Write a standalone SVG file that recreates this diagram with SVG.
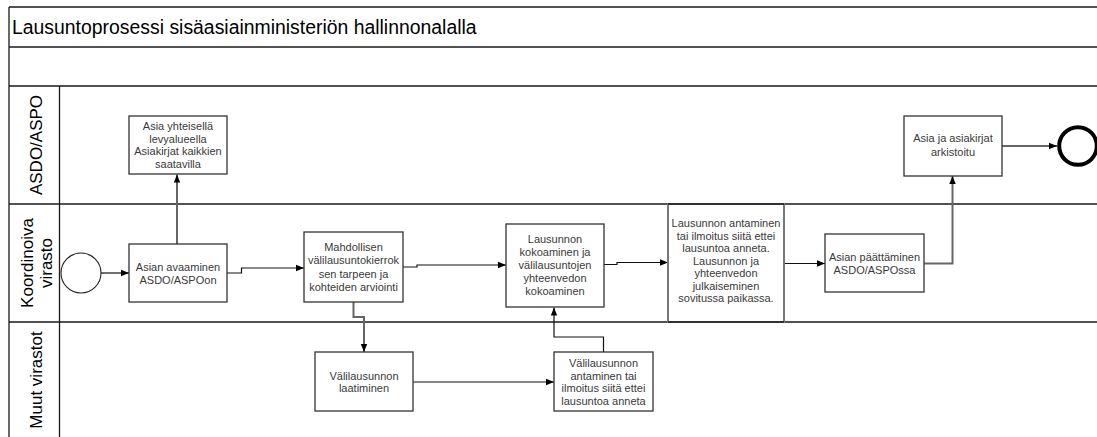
<svg xmlns="http://www.w3.org/2000/svg" width="1097" height="437" viewBox="0 0 1097 437">
<style>
.lane{stroke:#1a1a1a;stroke-width:1.3;fill:none}
.box{fill:#fff;stroke:#333;stroke-width:1.3}
.tall{fill:#fff;stroke:#777;stroke-width:2}
.bt{font-family:"Liberation Sans",Arial,sans-serif;font-size:11px;fill:#3a3a3a;text-anchor:middle}
.lbl{font-family:"Liberation Sans",Arial,sans-serif;font-size:17px;fill:#000;text-anchor:middle}
.title{font-family:"Liberation Sans",Arial,sans-serif;font-size:19.4px;fill:#000}
.c1{fill:none;stroke:#111;stroke-width:1.2}
.c2{fill:none;stroke:#666;stroke-width:2}
</style>
<defs>
<marker id="ah" viewBox="0 0 10 10" refX="10" refY="5" markerWidth="8" markerHeight="8" markerUnits="userSpaceOnUse" orient="auto">
<path d="M0,1 L10,5 L0,9 z" fill="#000"/>
</marker>
</defs>
<rect width="1097" height="437" fill="#fff"/>
<g id="pool">
<path class="lane" d="M9,7 H1097 M9,47 H1097 M9,86 H1097 M9,204 H1097 M9,322 H1097 M9,7 V437 M59.5,86 V437"/>
<text class="title" x="12" y="34">Lausuntoprosessi sisäasiainministeriön hallinnonalalla</text>
<text class="lbl" transform="translate(41.5,145) rotate(-90)">ASDO/ASPO</text>
<text class="lbl" transform="translate(33,263) rotate(-90)"><tspan x="0" y="0">Koordinoiva</tspan><tspan x="0" y="18.5">virasto</tspan></text>
<text class="lbl" transform="translate(41.5,380) rotate(-90)">Muut virastot</text>
</g>
<g id="connectors">
<path class="c1" d="M101,273 H129" marker-end="url(#ah)"/>
<path class="c2" d="M177,244 V174.5" marker-end="url(#ah)"/>
<path class="c1" d="M227,273 H241.5 V268 H304" marker-end="url(#ah)"/>
<path class="c1" d="M403,267 H417 V265 H506" marker-end="url(#ah)"/>
<path class="c2" d="M353.5,302 V317 H364 V352" marker-end="url(#ah)"/>
<path class="c1" d="M413,382 H554" marker-end="url(#ah)"/>
<path class="c1" d="M603.5,352 V337 H554 V307.5" marker-end="url(#ah)"/>
<path class="c1" d="M604,264.5 H617 V262.5 H668" marker-end="url(#ah)"/>
<path class="c1" d="M784,263.5 H825" marker-end="url(#ah)"/>
<path class="c2" d="M924,263.5 H952.5 V176" marker-end="url(#ah)"/>
<path class="c2" d="M1002,146 H1057" stroke-width="1.6" marker-end="url(#ah)"/>
</g>
<g id="start">
<circle cx="81" cy="273" r="20" fill="#fff" stroke="#222" stroke-width="1.1"/>
</g>
<g id="n_avaaminen">
<rect class="box" x="129" y="244" width="98" height="58"/>
<text class="bt"><tspan x="178" y="270.5">Asian avaaminen</tspan><tspan x="178" y="284">ASDO/ASPOon</tspan></text>
</g>
<g id="n_yhteisella">
<rect class="box" x="129" y="116" width="98" height="58"/>
<text class="bt"><tspan x="178" y="130">Asia yhteisellä</tspan><tspan x="178" y="142.7">levyalueella</tspan><tspan x="178" y="155.4">Asiakirjat kaikkien</tspan><tspan x="178" y="168">saatavilla</tspan></text>
</g>
<g id="n_mahdollisen">
<rect class="box" x="304" y="232" width="99" height="70"/>
<text class="bt"><tspan x="353.5" y="251">Mahdollisen</tspan><tspan x="353.5" y="264.3">välilausuntokierrok</tspan><tspan x="353.5" y="277.6">sen tarpeen ja</tspan><tspan x="353.5" y="290.9">kohteiden arviointi</tspan></text>
</g>
<g id="n_laatiminen">
<rect class="box" x="315" y="352" width="98" height="59"/>
<text class="bt"><tspan x="364" y="379.5">Välilausunnon</tspan><tspan x="364" y="392">laatiminen</tspan></text>
</g>
<g id="n_valiantaminen">
<rect class="box" x="554" y="352" width="99" height="59"/>
<text class="bt"><tspan x="603.5" y="367.3">Välilausunnon</tspan><tspan x="603.5" y="379.8">antaminen tai</tspan><tspan x="603.5" y="392.3">ilmoitus siitä ettei</tspan><tspan x="603.5" y="404.8">lausuntoa anneta</tspan></text>
</g>
<g id="n_kokoaminen">
<rect class="box" x="506" y="224" width="98" height="83"/>
<text class="bt"><tspan x="555" y="243">Lausunnon</tspan><tspan x="555" y="256">kokoaminen ja</tspan><tspan x="555" y="269">välilausuntojen</tspan><tspan x="555" y="282">yhteenvedon</tspan><tspan x="555" y="295">kokoaminen</tspan></text>
</g>
<g id="n_antaminen">
<rect class="tall" x="668" y="204" width="116" height="118"/>
<path class="lane" d="M668,204 H784 M668,322 H784"/>
<text class="bt"><tspan x="726" y="227.3">Lausunnon antaminen</tspan><tspan x="726" y="239.8">tai ilmoitus siitä ettei</tspan><tspan x="726" y="252.3">lausuntoa anneta.</tspan><tspan x="726" y="264.8">Lausunnon ja</tspan><tspan x="726" y="277.3">yhteenvedon</tspan><tspan x="726" y="289.8">julkaiseminen</tspan><tspan x="726" y="302.3">sovitussa paikassa.</tspan></text>
</g>
<g id="n_paattaminen">
<rect class="box" x="825" y="234" width="99" height="58"/>
<text class="bt"><tspan x="874.5" y="260.7">Asian päättäminen</tspan><tspan x="874.5" y="274">ASDO/ASPOssa</tspan></text>
</g>
<g id="n_arkistoitu">
<rect class="box" x="904" y="116" width="98" height="60"/>
<text class="bt"><tspan x="953" y="142.3">Asia ja asiakirjat</tspan><tspan x="953" y="155.7">arkistoitu</tspan></text>
</g>
<g id="end">
<circle cx="1078" cy="146" r="18.8" fill="#fff" stroke="#000" stroke-width="4"/>
</g>
</svg>
